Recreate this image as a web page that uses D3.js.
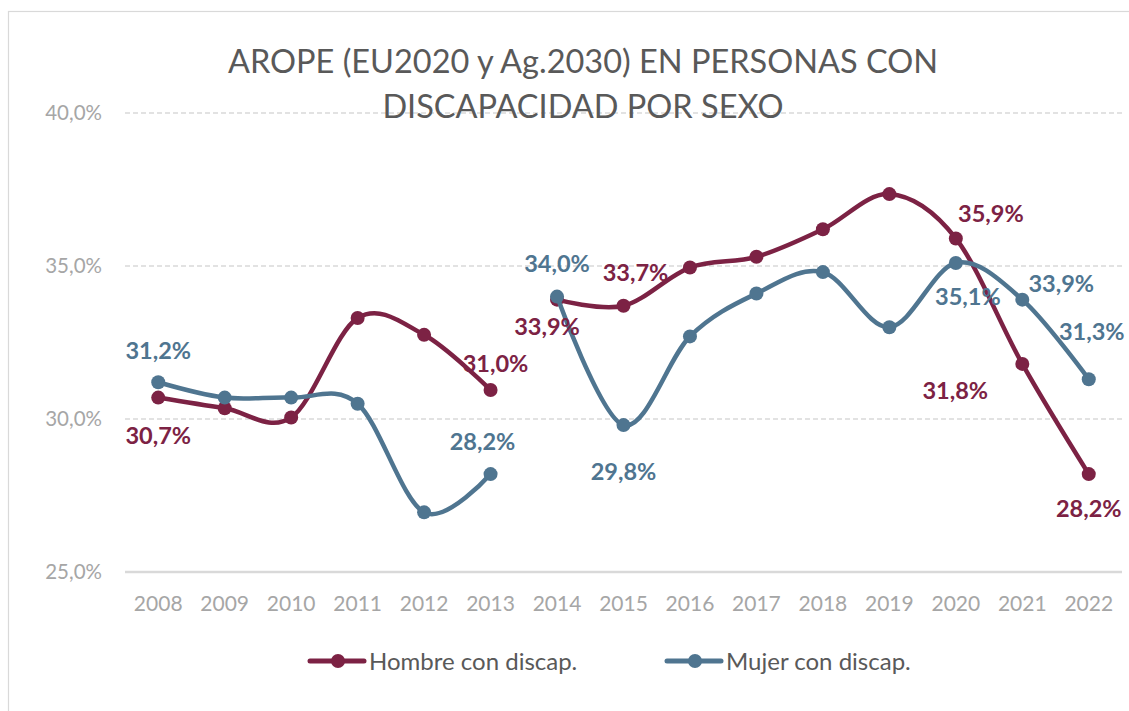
<!DOCTYPE html>
<html>
<head>
<meta charset="utf-8">
<script src="https://cdn.jsdelivr.net/npm/d3@7"></script>
<style>
  body { margin: 0; background: #fff; }
  svg { font-family: Lato, "Open Sans", sans-serif; }
</style>
</head>
<body>
<div id="main"></div>
<script>
var ctx = {
    w: 1129,
    h: 711,
};

// datos
var years = ["2008","2009","2010","2011","2012","2013","2014","2015","2016","2017","2018","2019","2020","2021","2022"];
var hombre = [30.7, 30.35, 30.05, 33.3, 32.75, 30.95, 33.9, 33.7, 34.95, 35.3, 36.2, 37.35, 35.9, 31.8, 28.2];
var mujer  = [31.2, 30.7, 30.7, 30.5, 26.95, 28.2, 34.0, 29.8, 32.7, 34.1, 34.8, 33.0, 35.1, 33.9, 31.3];
// la serie se corta entre 2013 y 2014
var tramos = [["2008","2013"], ["2014","2022"]];
var yTicks = [25, 30, 35, 40];

// etiquetas de datos que aparecen en el grafico
var labelsHombre = [["2008", 30.7], ["2013", 31.0], ["2014", 33.9], ["2015", 33.7], ["2020", 35.9], ["2021", 31.8], ["2022", 28.2]];
var labelsMujer  = [["2008", 31.2], ["2013", 28.2], ["2014", 34.0], ["2015", 29.8], ["2020", 35.1], ["2021", 33.9], ["2022", 31.3]];

// desplazamiento de cada etiqueta respecto a su punto
var offH = { "2008": [0, 38], "2013": [5, -25], "2014": [-10, 27], "2015": [12, -33],
             "2020": [35, -25], "2021": [-67, 27], "2022": [0, 34] };
var offM = { "2008": [0, -32], "2013": [-8, -33], "2014": [0, -33], "2015": [0, 46],
             "2020": [12, 34], "2021": [39, -16], "2022": [3, -48] };

var colorH = "#7C2244";
var colorM = "#4F7590";

var fmt = function(v){ return d3.format(".1f")(v).replace(".", ",") + "%"; };

var svg = d3.select("#main").append("svg")
    .attr("width", ctx.w)
    .attr("height", ctx.h);

// marco del grafico
svg.append("rect")
    .attr("x", 8.5).attr("y", 11.5)
    .attr("width", ctx.w + 20).attr("height", ctx.h + 20)
    .attr("fill", "none")
    .attr("stroke", "#D9D9D9")
    .attr("stroke-width", 1.2);

var x = d3.scalePoint().domain(years).range([125, 1122]).padding(0.5);
var y = d3.scaleLinear().domain([25, 40]).range([572, 113]);

// rejilla
svg.append("g").selectAll("line")
    .data(yTicks.filter(function(d){ return d > 25; }))
    .enter().append("line")
    .attr("x1", 125).attr("x2", 1122)
    .attr("y1", function(d){ return y(d); })
    .attr("y2", function(d){ return y(d); })
    .attr("stroke", "#D9D9D9")
    .attr("stroke-width", 1.3)
    .attr("stroke-dasharray", "5,3");

svg.append("line")
    .attr("x1", 125).attr("x2", 1122)
    .attr("y1", y(25)).attr("y2", y(25))
    .attr("stroke", "#D9D9D9")
    .attr("stroke-width", 2.5);

// eje y
svg.append("g").selectAll("text")
    .data(yTicks)
    .enter().append("text")
    .attr("x", 102)
    .attr("y", function(d){ return y(d); })
    .attr("dy", "0.35em")
    .attr("text-anchor", "end")
    .attr("font-size", 20.5)
    .attr("fill", "#A6A6A6")
    .text(function(d){ return d3.format(".1f")(d).replace(".", ",") + "%"; });

// eje x
svg.append("g").selectAll("text")
    .data(years)
    .enter().append("text")
    .attr("x", function(d){ return x(d); })
    .attr("y", 604)
    .attr("dy", "0.35em")
    .attr("text-anchor", "middle")
    .attr("font-size", 21)
    .attr("fill", "#A6A6A6")
    .text(function(d){ return d; });

// titulo
var title = svg.append("text")
    .attr("text-anchor", "middle")
    .attr("font-size", 32.5)
    .attr("fill", "#595959");
title.append("tspan").attr("x", 583).attr("y", 73).text("AROPE (EU2020 y Ag.2030) EN PERSONAS CON");
title.append("tspan").attr("x", 583).attr("y", 118).text("DISCAPACIDAD POR SEXO");

var line = d3.line()
    .x(function(d){ return x(d.year); })
    .y(function(d){ return y(d.value); })
    .curve(d3.curveCardinal.tension(0));

var drawSeries = function(values, color){
    var pts = years.map(function(yr, i){ return {year: yr, value: values[i]}; });
    var g = svg.append("g");
    tramos.forEach(function(t){
        var i0 = years.indexOf(t[0]), i1 = years.indexOf(t[1]);
        g.append("path")
            .datum(pts.slice(i0, i1 + 1))
            .attr("d", line)
            .attr("fill", "none")
            .attr("stroke", color)
            .attr("stroke-width", 4.5)
            .attr("stroke-linecap", "round");
    });
    g.selectAll("circle")
        .data(pts)
        .enter().append("circle")
        .attr("cx", function(d){ return x(d.year); })
        .attr("cy", function(d){ return y(d.value); })
        .attr("r", 7)
        .attr("fill", color);
};

drawSeries(hombre, colorH);
drawSeries(mujer, colorM);

var drawLabels = function(list, off, color){
    svg.append("g").selectAll("text")
        .data(list)
        .enter().append("text")
        .attr("x", function(d){ return x(d[0]) + off[d[0]][0]; })
        .attr("y", function(d){ return y(d[1]) + off[d[0]][1]; })
        .attr("dy", "0.36em")
        .attr("text-anchor", "middle")
        .attr("font-size", 23.5)
        .attr("font-weight", "bold")
        .attr("fill", color)
        .text(function(d){ return fmt(d[1]); });
};

drawLabels(labelsHombre, offH, colorH);
drawLabels(labelsMujer, offM, colorM);

// leyenda
var legend = [["Hombre con discap.", colorH, 310], ["Mujer con discap.", colorM, 667]];
var lg = svg.append("g").selectAll("g")
    .data(legend)
    .enter().append("g")
    .attr("transform", function(d){ return "translate(" + d[2] + ",661)"; });
lg.append("line")
    .attr("x1", 0).attr("x2", 54)
    .attr("stroke", function(d){ return d[1]; })
    .attr("stroke-width", 5)
    .attr("stroke-linecap", "round");
lg.append("circle")
    .attr("cx", 28).attr("r", 7)
    .attr("fill", function(d){ return d[1]; });
lg.append("text")
    .attr("x", 59).attr("y", 0)
    .attr("dy", "0.36em")
    .attr("font-size", 24)
    .attr("fill", "#595959")
    .text(function(d){ return d[0]; });
</script>
</body>
</html>
